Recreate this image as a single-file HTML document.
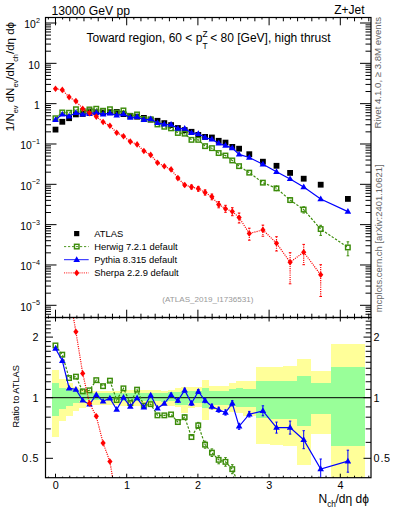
<!DOCTYPE html><html><head><meta charset="utf-8"><style>html,body{margin:0;padding:0;background:#fff;width:393px;height:512px;overflow:hidden}svg{display:block}text{font-family:"Liberation Sans", sans-serif}</style></head><body>
<svg width="393" height="512" viewBox="0 0 393 512">
<rect x="0" y="0" width="393" height="512" fill="#fff"/>
<defs><clipPath id="cu"><rect x="45.5" y="17.5" width="325.5" height="300"/></clipPath>
<clipPath id="cl"><rect x="45.5" y="317.5" width="325.5" height="160.2"/></clipPath></defs>
<g clip-path="url(#cl)" shape-rendering="crispEdges">
<rect x="52.1" y="370.2" width="6.8" height="66.7" fill="#ffff99"/>
<rect x="58.9" y="379.1" width="6.8" height="41.8" fill="#ffff99"/>
<rect x="65.7" y="383.1" width="6.8" height="32.4" fill="#ffff99"/>
<rect x="72.5" y="386.8" width="6.8" height="24.0" fill="#ffff99"/>
<rect x="79.3" y="389.5" width="6.8" height="18.0" fill="#ffff99"/>
<rect x="86.1" y="391.0" width="6.8" height="13.7" fill="#ffff99"/>
<rect x="92.9" y="391.0" width="6.8" height="13.7" fill="#ffff99"/>
<rect x="99.7" y="391.0" width="6.8" height="13.7" fill="#ffff99"/>
<rect x="106.5" y="391.0" width="6.8" height="13.7" fill="#ffff99"/>
<rect x="113.3" y="391.0" width="6.8" height="13.7" fill="#ffff99"/>
<rect x="120.1" y="390.2" width="6.8" height="15.3" fill="#ffff99"/>
<rect x="126.9" y="390.2" width="6.8" height="15.3" fill="#ffff99"/>
<rect x="133.7" y="390.2" width="6.8" height="15.3" fill="#ffff99"/>
<rect x="140.5" y="390.2" width="6.8" height="15.3" fill="#ffff99"/>
<rect x="147.3" y="390.2" width="6.8" height="15.3" fill="#ffff99"/>
<rect x="154.1" y="390.2" width="6.8" height="15.3" fill="#ffff99"/>
<rect x="160.9" y="391.0" width="6.8" height="14.5" fill="#ffff99"/>
<rect x="167.7" y="389.9" width="6.8" height="16.0" fill="#ffff99"/>
<rect x="174.5" y="387.9" width="6.8" height="19.1" fill="#ffff99"/>
<rect x="181.3" y="386.7" width="6.8" height="26.1" fill="#ffff99"/>
<rect x="188.1" y="387.3" width="6.8" height="20.5" fill="#ffff99"/>
<rect x="194.9" y="387.3" width="6.8" height="19.2" fill="#ffff99"/>
<rect x="201.7" y="380.1" width="6.8" height="39.5" fill="#ffff99"/>
<rect x="208.5" y="386.3" width="6.8" height="23.3" fill="#ffff99"/>
<rect x="215.3" y="386.3" width="6.8" height="23.3" fill="#ffff99"/>
<rect x="222.1" y="386.3" width="6.8" height="23.3" fill="#ffff99"/>
<rect x="228.9" y="383.2" width="6.8" height="28.6" fill="#ffff99"/>
<rect x="235.7" y="380.6" width="6.8" height="32.4" fill="#ffff99"/>
<rect x="242.5" y="380.5" width="13.6" height="35.5" fill="#ffff99"/>
<rect x="256.1" y="366.9" width="13.6" height="76.8" fill="#ffff99"/>
<rect x="269.7" y="366.5" width="13.6" height="78.0" fill="#ffff99"/>
<rect x="283.3" y="366.0" width="13.6" height="80.0" fill="#ffff99"/>
<rect x="296.9" y="359.4" width="13.6" height="105.9" fill="#ffff99"/>
<rect x="310.5" y="371.1" width="20.4" height="63.3" fill="#ffff99"/>
<rect x="330.9" y="344.0" width="34.0" height="134.0" fill="#ffff99"/>
<rect x="52.1" y="383.1" width="6.8" height="32.4" fill="#99ff99"/>
<rect x="58.9" y="387.8" width="6.8" height="21.4" fill="#99ff99"/>
<rect x="65.7" y="389.0" width="6.8" height="17.0" fill="#99ff99"/>
<rect x="72.5" y="390.0" width="6.8" height="12.8" fill="#99ff99"/>
<rect x="79.3" y="391.9" width="6.8" height="9.5" fill="#99ff99"/>
<rect x="86.1" y="393.0" width="6.8" height="7.0" fill="#99ff99"/>
<rect x="92.9" y="393.0" width="6.8" height="7.0" fill="#99ff99"/>
<rect x="99.7" y="393.0" width="6.8" height="7.0" fill="#99ff99"/>
<rect x="106.5" y="393.0" width="6.8" height="7.0" fill="#99ff99"/>
<rect x="113.3" y="393.0" width="6.8" height="7.0" fill="#99ff99"/>
<rect x="120.1" y="393.3" width="6.8" height="7.5" fill="#99ff99"/>
<rect x="126.9" y="393.3" width="6.8" height="7.5" fill="#99ff99"/>
<rect x="133.7" y="393.3" width="6.8" height="7.5" fill="#99ff99"/>
<rect x="140.5" y="393.3" width="6.8" height="7.5" fill="#99ff99"/>
<rect x="147.3" y="393.3" width="6.8" height="7.5" fill="#99ff99"/>
<rect x="154.1" y="393.3" width="6.8" height="7.5" fill="#99ff99"/>
<rect x="160.9" y="393.4" width="6.8" height="8.6" fill="#99ff99"/>
<rect x="167.7" y="392.4" width="6.8" height="8.9" fill="#99ff99"/>
<rect x="174.5" y="392.0" width="6.8" height="12.7" fill="#99ff99"/>
<rect x="181.3" y="391.3" width="6.8" height="13.4" fill="#99ff99"/>
<rect x="188.1" y="391.3" width="6.8" height="11.7" fill="#99ff99"/>
<rect x="194.9" y="391.3" width="6.8" height="11.7" fill="#99ff99"/>
<rect x="201.7" y="388.3" width="6.8" height="19.3" fill="#99ff99"/>
<rect x="208.5" y="391.0" width="6.8" height="14.3" fill="#99ff99"/>
<rect x="215.3" y="391.0" width="6.8" height="14.3" fill="#99ff99"/>
<rect x="222.1" y="391.0" width="6.8" height="14.3" fill="#99ff99"/>
<rect x="228.9" y="388.7" width="6.8" height="17.7" fill="#99ff99"/>
<rect x="235.7" y="387.9" width="6.8" height="19.1" fill="#99ff99"/>
<rect x="242.5" y="388.5" width="13.6" height="18.9" fill="#99ff99"/>
<rect x="256.1" y="381.0" width="13.6" height="37.0" fill="#99ff99"/>
<rect x="269.7" y="380.8" width="13.6" height="37.7" fill="#99ff99"/>
<rect x="283.3" y="380.5" width="13.6" height="38.5" fill="#99ff99"/>
<rect x="296.9" y="376.2" width="13.6" height="49.3" fill="#99ff99"/>
<rect x="310.5" y="382.8" width="20.4" height="31.6" fill="#99ff99"/>
<rect x="330.9" y="366.5" width="34.0" height="79.2" fill="#99ff99"/>
</g>
<line x1="45.5" y1="397.7" x2="371" y2="397.7" stroke="#000" stroke-width="1"/>
<g clip-path="url(#cl)">
<polyline points="55.5,345.5 62.3,354.6 69.1,378.0 75.9,376.6 82.7,391.3 89.5,390.3 96.3,380.1 103.1,386.2 109.9,380.7 116.7,400.0 123.5,388.4 130.3,403.0 137.1,389.7 143.9,405.6 150.7,404.2 157.5,415.4 164.3,415.4 171.1,414.5 177.9,422.0 184.7,417.2 191.5,437.0 198.3,425.4 205.1,444.7 211.9,452.7 218.7,459.8 225.5,461.9 232.3,469.2 239.1,485.2 249.3,490.1 262.9,502.7 276.5,510.0 290.1,532.9 303.7,552.0 320.7,619.3 347.9,640.4" fill="none" stroke="#3c8c0a" stroke-width="1.2" stroke-dasharray="2.4 1.6"/>
<rect x="53.2" y="343.2" width="4.5" height="4.5" fill="none" stroke="#3c8c0a" stroke-width="1.45"/>
<rect x="60.0" y="352.4" width="4.5" height="4.5" fill="none" stroke="#3c8c0a" stroke-width="1.45"/>
<rect x="66.8" y="375.8" width="4.5" height="4.5" fill="none" stroke="#3c8c0a" stroke-width="1.45"/>
<rect x="73.7" y="374.4" width="4.5" height="4.5" fill="none" stroke="#3c8c0a" stroke-width="1.45"/>
<rect x="80.5" y="389.1" width="4.5" height="4.5" fill="none" stroke="#3c8c0a" stroke-width="1.45"/>
<rect x="87.2" y="388.1" width="4.5" height="4.5" fill="none" stroke="#3c8c0a" stroke-width="1.45"/>
<rect x="94.0" y="377.9" width="4.5" height="4.5" fill="none" stroke="#3c8c0a" stroke-width="1.45"/>
<rect x="100.8" y="383.9" width="4.5" height="4.5" fill="none" stroke="#3c8c0a" stroke-width="1.45"/>
<rect x="107.7" y="378.4" width="4.5" height="4.5" fill="none" stroke="#3c8c0a" stroke-width="1.45"/>
<rect x="114.4" y="397.8" width="4.5" height="4.5" fill="none" stroke="#3c8c0a" stroke-width="1.45"/>
<rect x="121.2" y="386.1" width="4.5" height="4.5" fill="none" stroke="#3c8c0a" stroke-width="1.45"/>
<rect x="128.1" y="400.8" width="4.5" height="4.5" fill="none" stroke="#3c8c0a" stroke-width="1.45"/>
<rect x="134.8" y="387.4" width="4.5" height="4.5" fill="none" stroke="#3c8c0a" stroke-width="1.45"/>
<rect x="141.6" y="403.4" width="4.5" height="4.5" fill="none" stroke="#3c8c0a" stroke-width="1.45"/>
<rect x="148.4" y="401.9" width="4.5" height="4.5" fill="none" stroke="#3c8c0a" stroke-width="1.45"/>
<rect x="155.2" y="413.1" width="4.5" height="4.5" fill="none" stroke="#3c8c0a" stroke-width="1.45"/>
<rect x="162.1" y="413.1" width="4.5" height="4.5" fill="none" stroke="#3c8c0a" stroke-width="1.45"/>
<rect x="168.8" y="412.2" width="4.5" height="4.5" fill="none" stroke="#3c8c0a" stroke-width="1.45"/>
<rect x="175.6" y="419.8" width="4.5" height="4.5" fill="none" stroke="#3c8c0a" stroke-width="1.45"/>
<path d="M184.7 415.2V414.3M184.7 420.1V419.2M183.4 415.2H186.0M183.4 419.2H186.0" stroke="#3c8c0a" stroke-width="1" fill="none"/>
<rect x="182.4" y="414.9" width="4.5" height="4.5" fill="none" stroke="#3c8c0a" stroke-width="1.45"/>
<path d="M191.5 434.5V434.1M191.5 439.9V439.5M190.2 434.5H192.8M190.2 439.5H192.8" stroke="#3c8c0a" stroke-width="1" fill="none"/>
<rect x="189.2" y="434.8" width="4.5" height="4.5" fill="none" stroke="#3c8c0a" stroke-width="1.45"/>
<path d="M198.3 422.4V422.5M198.3 428.3V428.4M197.0 422.4H199.6M197.0 428.4H199.6" stroke="#3c8c0a" stroke-width="1" fill="none"/>
<rect x="196.0" y="423.1" width="4.5" height="4.5" fill="none" stroke="#3c8c0a" stroke-width="1.45"/>
<path d="M205.1 441.2V441.8M205.1 447.6V448.2M203.8 441.2H206.4M203.8 448.2H206.4" stroke="#3c8c0a" stroke-width="1" fill="none"/>
<rect x="202.8" y="442.4" width="4.5" height="4.5" fill="none" stroke="#3c8c0a" stroke-width="1.45"/>
<path d="M211.9 448.9V449.8M211.9 455.6V456.5M210.6 448.9H213.2M210.6 456.5H213.2" stroke="#3c8c0a" stroke-width="1" fill="none"/>
<rect x="209.7" y="450.4" width="4.5" height="4.5" fill="none" stroke="#3c8c0a" stroke-width="1.45"/>
<path d="M218.7 455.8V456.9M218.7 462.7V463.8M217.4 455.8H220.0M217.4 463.8H220.0" stroke="#3c8c0a" stroke-width="1" fill="none"/>
<rect x="216.4" y="457.6" width="4.5" height="4.5" fill="none" stroke="#3c8c0a" stroke-width="1.45"/>
<path d="M225.5 457.6V459.0M225.5 464.8V466.2M224.2 457.6H226.8M224.2 466.2H226.8" stroke="#3c8c0a" stroke-width="1" fill="none"/>
<rect x="223.2" y="459.6" width="4.5" height="4.5" fill="none" stroke="#3c8c0a" stroke-width="1.45"/>
<path d="M232.3 464.7V466.3M232.3 472.1V473.7M231.0 464.7H233.6M231.0 473.7H233.6" stroke="#3c8c0a" stroke-width="1" fill="none"/>
<rect x="230.0" y="466.9" width="4.5" height="4.5" fill="none" stroke="#3c8c0a" stroke-width="1.45"/>
<polyline points="55.5,348.5 62.3,360.7 69.1,388.2 75.9,389.5 82.7,400.4 89.5,404.4 96.3,394.7 103.1,401.4 109.9,398.3 116.7,409.5 123.5,397.6 130.3,406.5 137.1,398.1 143.9,407.4 150.7,395.3 157.5,408.3 164.3,403.5 171.1,394.9 177.9,400.6 184.7,390.2 191.5,403.3 198.3,391.5 205.1,400.5 211.9,406.5 218.7,409.7 225.5,412.5 232.3,403.3 239.1,426.3 249.3,414.2 262.9,410.8 276.5,427.6 290.1,427.6 303.7,439.7 320.7,469.0 347.9,461.2" fill="none" stroke="#0000ff" stroke-width="1.2"/>
<polygon points="55.5,345.0 52.2,350.7 58.8,350.7" fill="#0000ff"/>
<polygon points="62.3,357.2 59.0,362.9 65.6,362.9" fill="#0000ff"/>
<polygon points="69.1,384.7 65.8,390.4 72.4,390.4" fill="#0000ff"/>
<polygon points="75.9,386.0 72.6,391.7 79.2,391.7" fill="#0000ff"/>
<polygon points="82.7,396.9 79.4,402.6 86.0,402.6" fill="#0000ff"/>
<polygon points="89.5,400.9 86.2,406.6 92.8,406.6" fill="#0000ff"/>
<polygon points="96.3,391.2 93.0,396.9 99.6,396.9" fill="#0000ff"/>
<polygon points="103.1,397.9 99.8,403.6 106.4,403.6" fill="#0000ff"/>
<polygon points="109.9,394.8 106.6,400.5 113.2,400.5" fill="#0000ff"/>
<polygon points="116.7,406.0 113.4,411.7 120.0,411.7" fill="#0000ff"/>
<polygon points="123.5,394.1 120.2,399.8 126.8,399.8" fill="#0000ff"/>
<polygon points="130.3,403.0 127.0,408.7 133.6,408.7" fill="#0000ff"/>
<polygon points="137.1,394.6 133.8,400.3 140.4,400.3" fill="#0000ff"/>
<polygon points="143.9,403.9 140.6,409.6 147.2,409.6" fill="#0000ff"/>
<polygon points="150.7,391.8 147.4,397.5 154.0,397.5" fill="#0000ff"/>
<polygon points="157.5,404.8 154.2,410.5 160.8,410.5" fill="#0000ff"/>
<polygon points="164.3,400.0 161.0,405.7 167.6,405.7" fill="#0000ff"/>
<path d="M171.1 393.1V396.7M169.9 393.1H172.3M169.9 396.7H172.3" stroke="#0000ff" stroke-width="1" fill="none"/>
<polygon points="171.1,391.4 167.8,397.1 174.4,397.1" fill="#0000ff"/>
<path d="M177.9 398.8V402.4M176.7 398.8H179.1M176.7 402.4H179.1" stroke="#0000ff" stroke-width="1" fill="none"/>
<polygon points="177.9,397.1 174.6,402.8 181.2,402.8" fill="#0000ff"/>
<path d="M184.7 388.2V392.2M183.5 388.2H185.9M183.5 392.2H185.9" stroke="#0000ff" stroke-width="1" fill="none"/>
<polygon points="184.7,386.7 181.4,392.4 188.0,392.4" fill="#0000ff"/>
<path d="M191.5 401.3V405.3M190.3 401.3H192.7M190.3 405.3H192.7" stroke="#0000ff" stroke-width="1" fill="none"/>
<polygon points="191.5,399.8 188.2,405.5 194.8,405.5" fill="#0000ff"/>
<path d="M198.3 389.5V393.5M197.1 389.5H199.5M197.1 393.5H199.5" stroke="#0000ff" stroke-width="1" fill="none"/>
<polygon points="198.3,388.0 195.0,393.7 201.6,393.7" fill="#0000ff"/>
<path d="M205.1 398.3V402.7M203.9 398.3H206.3M203.9 402.7H206.3" stroke="#0000ff" stroke-width="1" fill="none"/>
<polygon points="205.1,397.0 201.8,402.7 208.4,402.7" fill="#0000ff"/>
<path d="M211.9 404.1V408.9M210.7 404.1H213.1M210.7 408.9H213.1" stroke="#0000ff" stroke-width="1" fill="none"/>
<polygon points="211.9,403.0 208.6,408.7 215.2,408.7" fill="#0000ff"/>
<path d="M218.7 407.2V412.2M217.5 407.2H219.9M217.5 412.2H219.9" stroke="#0000ff" stroke-width="1" fill="none"/>
<polygon points="218.7,406.2 215.4,411.9 222.0,411.9" fill="#0000ff"/>
<path d="M225.5 409.9V415.1M224.3 409.9H226.7M224.3 415.1H226.7" stroke="#0000ff" stroke-width="1" fill="none"/>
<polygon points="225.5,409.0 222.2,414.7 228.8,414.7" fill="#0000ff"/>
<path d="M232.3 400.7V405.9M231.1 400.7H233.5M231.1 405.9H233.5" stroke="#0000ff" stroke-width="1" fill="none"/>
<polygon points="232.3,399.8 229.0,405.5 235.6,405.5" fill="#0000ff"/>
<path d="M239.1 423.3V429.3M237.9 423.3H240.3M237.9 429.3H240.3" stroke="#0000ff" stroke-width="1" fill="none"/>
<polygon points="239.1,422.8 235.8,428.5 242.4,428.5" fill="#0000ff"/>
<path d="M249.3 411.4V417.0M248.1 411.4H250.5M248.1 417.0H250.5" stroke="#0000ff" stroke-width="1" fill="none"/>
<polygon points="249.3,410.7 246.0,416.4 252.6,416.4" fill="#0000ff"/>
<path d="M262.9 405.8V415.8M261.7 405.8H264.1M261.7 415.8H264.1" stroke="#0000ff" stroke-width="1" fill="none"/>
<polygon points="262.9,407.3 259.6,413.0 266.2,413.0" fill="#0000ff"/>
<path d="M276.5 422.1V433.1M275.3 422.1H277.7M275.3 433.1H277.7" stroke="#0000ff" stroke-width="1" fill="none"/>
<polygon points="276.5,424.1 273.2,429.8 279.8,429.8" fill="#0000ff"/>
<path d="M290.1 421.1V434.1M288.9 421.1H291.3M288.9 434.1H291.3" stroke="#0000ff" stroke-width="1" fill="none"/>
<polygon points="290.1,424.1 286.8,429.8 293.4,429.8" fill="#0000ff"/>
<path d="M303.7 430.7V448.7M302.5 430.7H304.9M302.5 448.7H304.9" stroke="#0000ff" stroke-width="1" fill="none"/>
<polygon points="303.7,436.2 300.4,441.9 307.0,441.9" fill="#0000ff"/>
<path d="M320.7 459.0V479.0M319.5 459.0H321.9M319.5 479.0H321.9" stroke="#0000ff" stroke-width="1" fill="none"/>
<polygon points="320.7,465.5 317.4,471.2 324.0,471.2" fill="#0000ff"/>
<path d="M347.9 450.2V472.2M346.7 450.2H349.1M346.7 472.2H349.1" stroke="#0000ff" stroke-width="1" fill="none"/>
<polygon points="347.9,457.7 344.6,463.4 351.2,463.4" fill="#0000ff"/>
<polyline points="55.5,193.7 62.3,238.4 69.1,292.3 75.9,331.8 82.7,373.4 89.5,403.4 96.3,416.3 103.1,443.1 109.9,461.5 116.7,501.9 123.5,508.4 130.3,526.3 137.1,535.9 143.9,563.2 150.7,574.0 157.5,607.5 164.3,613.2 171.1,619.1 177.9,647.7 184.7,671.8 191.5,673.4 198.3,666.1 205.1,674.6 211.9,693.6 218.7,716.2 225.5,727.5 232.3,720.3 239.1,741.3 249.3,793.6 262.9,738.3 276.5,784.1 290.1,843.5 303.7,764.7 320.7,847.4" fill="none" stroke="#ff0000" stroke-width="1.2" stroke-dasharray="1.1 1.1"/>
<polygon points="55.5,190.4 58.1,193.7 55.5,197.0 52.9,193.7" fill="#ff0000"/>
<polygon points="62.3,235.1 64.9,238.4 62.3,241.7 59.7,238.4" fill="#ff0000"/>
<polygon points="69.1,289.0 71.7,292.3 69.1,295.6 66.5,292.3" fill="#ff0000"/>
<polygon points="75.9,328.5 78.5,331.8 75.9,335.1 73.3,331.8" fill="#ff0000"/>
<polygon points="82.7,370.1 85.3,373.4 82.7,376.7 80.1,373.4" fill="#ff0000"/>
<polygon points="89.5,400.1 92.1,403.4 89.5,406.7 86.9,403.4" fill="#ff0000"/>
<polygon points="96.3,413.0 98.9,416.3 96.3,419.6 93.7,416.3" fill="#ff0000"/>
<polygon points="103.1,439.8 105.7,443.1 103.1,446.4 100.5,443.1" fill="#ff0000"/>
<polygon points="109.9,458.2 112.5,461.5 109.9,464.8 107.3,461.5" fill="#ff0000"/>
<polygon points="116.7,498.6 119.3,501.9 116.7,505.2 114.1,501.9" fill="#ff0000"/>
<polygon points="123.5,505.1 126.1,508.4 123.5,511.7 120.9,508.4" fill="#ff0000"/>
<polygon points="130.3,523.0 132.9,526.3 130.3,529.6 127.7,526.3" fill="#ff0000"/>
<polygon points="137.1,532.6 139.7,535.9 137.1,539.2 134.5,535.9" fill="#ff0000"/>
<polygon points="143.9,559.9 146.5,563.2 143.9,566.5 141.3,563.2" fill="#ff0000"/>
<polygon points="150.7,570.7 153.3,574.0 150.7,577.3 148.1,574.0" fill="#ff0000"/>
<polygon points="157.5,604.2 160.1,607.5 157.5,610.8 154.9,607.5" fill="#ff0000"/>
<polygon points="164.3,609.9 166.9,613.2 164.3,616.5 161.7,613.2" fill="#ff0000"/>
<polygon points="171.1,615.8 173.7,619.1 171.1,622.4 168.5,619.1" fill="#ff0000"/>
<polygon points="177.9,644.4 180.5,647.7 177.9,651.0 175.3,647.7" fill="#ff0000"/>
<polygon points="184.7,668.5 187.3,671.8 184.7,675.1 182.1,671.8" fill="#ff0000"/>
<polygon points="191.5,670.1 194.1,673.4 191.5,676.7 188.9,673.4" fill="#ff0000"/>
<polygon points="198.3,662.8 200.9,666.1 198.3,669.4 195.7,666.1" fill="#ff0000"/>
<polygon points="205.1,671.3 207.7,674.6 205.1,677.9 202.5,674.6" fill="#ff0000"/>
<polygon points="211.9,690.3 214.5,693.6 211.9,696.9 209.3,693.6" fill="#ff0000"/>
<polygon points="218.7,712.9 221.3,716.2 218.7,719.5 216.1,716.2" fill="#ff0000"/>
<polygon points="225.5,724.2 228.1,727.5 225.5,730.8 222.9,727.5" fill="#ff0000"/>
<polygon points="232.3,717.0 234.9,720.3 232.3,723.6 229.7,720.3" fill="#ff0000"/>
<polygon points="239.1,738.0 241.7,741.3 239.1,744.6 236.5,741.3" fill="#ff0000"/>
<polygon points="249.3,790.3 251.9,793.6 249.3,796.9 246.7,793.6" fill="#ff0000"/>
<polygon points="262.9,735.0 265.5,738.3 262.9,741.6 260.3,738.3" fill="#ff0000"/>
<polygon points="276.5,780.8 279.1,784.1 276.5,787.4 273.9,784.1" fill="#ff0000"/>
<polygon points="290.1,840.2 292.7,843.5 290.1,846.8 287.5,843.5" fill="#ff0000"/>
<polygon points="303.7,761.4 306.3,764.7 303.7,768.0 301.1,764.7" fill="#ff0000"/>
<polygon points="320.7,844.1 323.3,847.4 320.7,850.7 318.1,847.4" fill="#ff0000"/>
</g>
<g clip-path="url(#cu)">
<rect x="52.6" y="126.7" width="5.8" height="5.8" fill="#000"/>
<rect x="59.4" y="118.9" width="5.8" height="5.8" fill="#000"/>
<rect x="66.2" y="115.3" width="5.8" height="5.8" fill="#000"/>
<rect x="73.0" y="111.5" width="5.8" height="5.8" fill="#000"/>
<rect x="79.8" y="111.0" width="5.8" height="5.8" fill="#000"/>
<rect x="86.6" y="108.5" width="5.8" height="5.8" fill="#000"/>
<rect x="93.4" y="109.4" width="5.8" height="5.8" fill="#000"/>
<rect x="100.2" y="109.6" width="5.8" height="5.8" fill="#000"/>
<rect x="107.0" y="109.3" width="5.8" height="5.8" fill="#000"/>
<rect x="113.8" y="109.0" width="5.8" height="5.8" fill="#000"/>
<rect x="120.6" y="111.2" width="5.8" height="5.8" fill="#000"/>
<rect x="127.4" y="112.9" width="5.8" height="5.8" fill="#000"/>
<rect x="134.2" y="113.8" width="5.8" height="5.8" fill="#000"/>
<rect x="141.0" y="115.0" width="5.8" height="5.8" fill="#000"/>
<rect x="147.8" y="116.7" width="5.8" height="5.8" fill="#000"/>
<rect x="154.6" y="117.9" width="5.8" height="5.8" fill="#000"/>
<rect x="161.4" y="120.2" width="5.8" height="5.8" fill="#000"/>
<rect x="168.2" y="122.2" width="5.8" height="5.8" fill="#000"/>
<rect x="175.0" y="125.1" width="5.8" height="5.8" fill="#000"/>
<rect x="181.8" y="127.2" width="5.8" height="5.8" fill="#000"/>
<rect x="188.6" y="128.9" width="5.8" height="5.8" fill="#000"/>
<rect x="195.4" y="132.0" width="5.8" height="5.8" fill="#000"/>
<rect x="202.2" y="134.0" width="5.8" height="5.8" fill="#000"/>
<rect x="209.0" y="134.6" width="5.8" height="5.8" fill="#000"/>
<rect x="215.8" y="137.9" width="5.8" height="5.8" fill="#000"/>
<rect x="222.6" y="139.7" width="5.8" height="5.8" fill="#000"/>
<rect x="229.4" y="144.0" width="5.8" height="5.8" fill="#000"/>
<rect x="236.2" y="145.8" width="5.8" height="5.8" fill="#000"/>
<rect x="246.4" y="151.3" width="5.8" height="5.8" fill="#000"/>
<rect x="260.0" y="158.8" width="5.8" height="5.8" fill="#000"/>
<rect x="273.6" y="162.9" width="5.8" height="5.8" fill="#000"/>
<rect x="287.2" y="170.0" width="5.8" height="5.8" fill="#000"/>
<rect x="300.8" y="175.8" width="5.8" height="5.8" fill="#000"/>
<rect x="317.8" y="181.8" width="5.8" height="5.8" fill="#000"/>
<rect x="345.0" y="196.0" width="5.8" height="5.8" fill="#000"/>
<polyline points="55.5,118.2 62.3,112.4 69.1,112.8 75.9,109.3 82.7,111.3 89.5,109.5 96.3,108.8 103.1,110.8 109.9,109.3 116.7,112.6 123.5,110.5 130.3,116.0 137.1,114.5 143.9,119.0 150.7,119.5 157.5,124.4 164.3,126.8 171.1,128.3 177.9,132.9 184.7,133.7 191.5,139.8 198.3,139.8 205.1,146.2 211.9,148.2 218.7,153.0 225.5,155.6 232.3,160.5 239.1,166.2 249.3,172.7 262.9,182.7 276.5,188.3 290.1,200.0 303.7,209.6 320.7,229.1 347.9,247.5" fill="none" stroke="#3c8c0a" stroke-width="1.2" stroke-dasharray="2.4 1.6"/>
<rect x="53.2" y="116.0" width="4.5" height="4.5" fill="none" stroke="#3c8c0a" stroke-width="1.45"/>
<rect x="60.0" y="110.2" width="4.5" height="4.5" fill="none" stroke="#3c8c0a" stroke-width="1.45"/>
<rect x="66.8" y="110.5" width="4.5" height="4.5" fill="none" stroke="#3c8c0a" stroke-width="1.45"/>
<rect x="73.7" y="107.0" width="4.5" height="4.5" fill="none" stroke="#3c8c0a" stroke-width="1.45"/>
<rect x="80.5" y="109.0" width="4.5" height="4.5" fill="none" stroke="#3c8c0a" stroke-width="1.45"/>
<rect x="87.2" y="107.2" width="4.5" height="4.5" fill="none" stroke="#3c8c0a" stroke-width="1.45"/>
<rect x="94.0" y="106.5" width="4.5" height="4.5" fill="none" stroke="#3c8c0a" stroke-width="1.45"/>
<rect x="100.8" y="108.5" width="4.5" height="4.5" fill="none" stroke="#3c8c0a" stroke-width="1.45"/>
<rect x="107.7" y="107.0" width="4.5" height="4.5" fill="none" stroke="#3c8c0a" stroke-width="1.45"/>
<rect x="114.4" y="110.3" width="4.5" height="4.5" fill="none" stroke="#3c8c0a" stroke-width="1.45"/>
<rect x="121.2" y="108.2" width="4.5" height="4.5" fill="none" stroke="#3c8c0a" stroke-width="1.45"/>
<rect x="128.1" y="113.8" width="4.5" height="4.5" fill="none" stroke="#3c8c0a" stroke-width="1.45"/>
<rect x="134.8" y="112.2" width="4.5" height="4.5" fill="none" stroke="#3c8c0a" stroke-width="1.45"/>
<rect x="141.6" y="116.8" width="4.5" height="4.5" fill="none" stroke="#3c8c0a" stroke-width="1.45"/>
<rect x="148.4" y="117.2" width="4.5" height="4.5" fill="none" stroke="#3c8c0a" stroke-width="1.45"/>
<rect x="155.2" y="122.2" width="4.5" height="4.5" fill="none" stroke="#3c8c0a" stroke-width="1.45"/>
<rect x="162.1" y="124.5" width="4.5" height="4.5" fill="none" stroke="#3c8c0a" stroke-width="1.45"/>
<rect x="168.8" y="126.1" width="4.5" height="4.5" fill="none" stroke="#3c8c0a" stroke-width="1.45"/>
<rect x="175.6" y="130.7" width="4.5" height="4.5" fill="none" stroke="#3c8c0a" stroke-width="1.45"/>
<rect x="182.4" y="131.4" width="4.5" height="4.5" fill="none" stroke="#3c8c0a" stroke-width="1.45"/>
<rect x="189.2" y="137.6" width="4.5" height="4.5" fill="none" stroke="#3c8c0a" stroke-width="1.45"/>
<rect x="196.0" y="137.6" width="4.5" height="4.5" fill="none" stroke="#3c8c0a" stroke-width="1.45"/>
<rect x="202.8" y="143.9" width="4.5" height="4.5" fill="none" stroke="#3c8c0a" stroke-width="1.45"/>
<rect x="209.7" y="145.9" width="4.5" height="4.5" fill="none" stroke="#3c8c0a" stroke-width="1.45"/>
<rect x="216.4" y="150.8" width="4.5" height="4.5" fill="none" stroke="#3c8c0a" stroke-width="1.45"/>
<rect x="223.2" y="153.3" width="4.5" height="4.5" fill="none" stroke="#3c8c0a" stroke-width="1.45"/>
<rect x="230.0" y="158.2" width="4.5" height="4.5" fill="none" stroke="#3c8c0a" stroke-width="1.45"/>
<rect x="236.8" y="163.9" width="4.5" height="4.5" fill="none" stroke="#3c8c0a" stroke-width="1.45"/>
<rect x="247.0" y="170.4" width="4.5" height="4.5" fill="none" stroke="#3c8c0a" stroke-width="1.45"/>
<rect x="260.6" y="180.4" width="4.5" height="4.5" fill="none" stroke="#3c8c0a" stroke-width="1.45"/>
<path d="M276.5 186.5V185.4M276.5 191.2V190.3M275.2 186.5H277.8M275.2 190.3H277.8" stroke="#3c8c0a" stroke-width="1" fill="none"/>
<rect x="274.2" y="186.1" width="4.5" height="4.5" fill="none" stroke="#3c8c0a" stroke-width="1.45"/>
<path d="M290.1 197.8V197.1M290.1 202.9V202.6M288.8 197.8H291.4M288.8 202.6H291.4" stroke="#3c8c0a" stroke-width="1" fill="none"/>
<rect x="287.9" y="197.8" width="4.5" height="4.5" fill="none" stroke="#3c8c0a" stroke-width="1.45"/>
<path d="M303.7 206.8V206.7M303.7 212.5V213.0M302.4 206.8H305.0M302.4 213.0H305.0" stroke="#3c8c0a" stroke-width="1" fill="none"/>
<rect x="301.4" y="207.3" width="4.5" height="4.5" fill="none" stroke="#3c8c0a" stroke-width="1.45"/>
<path d="M320.7 225.3V226.2M320.7 232.0V235.4M319.4 225.3H322.0M319.4 235.4H322.0" stroke="#3c8c0a" stroke-width="1" fill="none"/>
<rect x="318.4" y="226.8" width="4.5" height="4.5" fill="none" stroke="#3c8c0a" stroke-width="1.45"/>
<path d="M347.9 241.8V244.6M347.9 250.4V255.8M346.6 241.8H349.2M346.6 255.8H349.2" stroke="#3c8c0a" stroke-width="1" fill="none"/>
<rect x="345.6" y="245.2" width="4.5" height="4.5" fill="none" stroke="#3c8c0a" stroke-width="1.45"/>
<polyline points="55.5,119.7 62.3,114.4 69.1,116.3 75.9,112.8 82.7,114.4 89.5,113.7 96.3,112.7 103.1,114.2 109.9,113.3 116.7,115.3 123.5,114.1 130.3,117.6 137.1,116.8 143.9,119.8 150.7,119.1 157.5,122.9 164.3,124.3 171.1,124.5 177.9,128.6 184.7,128.6 191.5,132.9 198.3,133.7 205.1,137.5 211.9,139.3 218.7,143.2 225.5,145.6 232.3,148.0 239.1,154.4 249.3,157.5 262.9,164.3 276.5,171.8 290.1,178.9 303.7,187.1 320.7,199.0 347.9,211.6" fill="none" stroke="#0000ff" stroke-width="1.2"/>
<polygon points="55.5,116.2 52.2,121.9 58.8,121.9" fill="#0000ff"/>
<polygon points="62.3,110.9 59.0,116.6 65.6,116.6" fill="#0000ff"/>
<polygon points="69.1,112.8 65.8,118.5 72.4,118.5" fill="#0000ff"/>
<polygon points="75.9,109.3 72.6,115.0 79.2,115.0" fill="#0000ff"/>
<polygon points="82.7,110.9 79.4,116.6 86.0,116.6" fill="#0000ff"/>
<polygon points="89.5,110.2 86.2,115.9 92.8,115.9" fill="#0000ff"/>
<polygon points="96.3,109.2 93.0,114.9 99.6,114.9" fill="#0000ff"/>
<polygon points="103.1,110.7 99.8,116.4 106.4,116.4" fill="#0000ff"/>
<polygon points="109.9,109.8 106.6,115.5 113.2,115.5" fill="#0000ff"/>
<polygon points="116.7,111.8 113.4,117.5 120.0,117.5" fill="#0000ff"/>
<polygon points="123.5,110.6 120.2,116.3 126.8,116.3" fill="#0000ff"/>
<polygon points="130.3,114.1 127.0,119.8 133.6,119.8" fill="#0000ff"/>
<polygon points="137.1,113.3 133.8,119.0 140.4,119.0" fill="#0000ff"/>
<polygon points="143.9,116.3 140.6,122.0 147.2,122.0" fill="#0000ff"/>
<polygon points="150.7,115.6 147.4,121.3 154.0,121.3" fill="#0000ff"/>
<polygon points="157.5,119.4 154.2,125.1 160.8,125.1" fill="#0000ff"/>
<polygon points="164.3,120.8 161.0,126.5 167.6,126.5" fill="#0000ff"/>
<polygon points="171.1,121.0 167.8,126.7 174.4,126.7" fill="#0000ff"/>
<polygon points="177.9,125.1 174.6,130.8 181.2,130.8" fill="#0000ff"/>
<polygon points="184.7,125.1 181.4,130.8 188.0,130.8" fill="#0000ff"/>
<polygon points="191.5,129.4 188.2,135.1 194.8,135.1" fill="#0000ff"/>
<polygon points="198.3,130.2 195.0,135.9 201.6,135.9" fill="#0000ff"/>
<polygon points="205.1,134.0 201.8,139.7 208.4,139.7" fill="#0000ff"/>
<polygon points="211.9,135.8 208.6,141.5 215.2,141.5" fill="#0000ff"/>
<polygon points="218.7,139.7 215.4,145.4 222.0,145.4" fill="#0000ff"/>
<polygon points="225.5,142.1 222.2,147.8 228.8,147.8" fill="#0000ff"/>
<polygon points="232.3,144.5 229.0,150.2 235.6,150.2" fill="#0000ff"/>
<polygon points="239.1,150.9 235.8,156.6 242.4,156.6" fill="#0000ff"/>
<polygon points="249.3,154.0 246.0,159.7 252.6,159.7" fill="#0000ff"/>
<polygon points="262.9,160.8 259.6,166.5 266.2,166.5" fill="#0000ff"/>
<polygon points="276.5,168.3 273.2,174.0 279.8,174.0" fill="#0000ff"/>
<polygon points="290.1,175.4 286.8,181.1 293.4,181.1" fill="#0000ff"/>
<polygon points="303.7,183.6 300.4,189.3 307.0,189.3" fill="#0000ff"/>
<polygon points="320.7,195.5 317.4,201.2 324.0,201.2" fill="#0000ff"/>
<polygon points="347.9,208.1 344.6,213.8 351.2,213.8" fill="#0000ff"/>
<polyline points="55.5,88.7 62.3,89.9 69.1,97.1 75.9,101.1 82.7,108.7 89.5,113.1 96.3,116.6 103.1,122.0 109.9,125.8 116.7,132.8 123.5,136.3 130.3,141.6 137.1,144.4 143.9,151.0 150.7,154.9 157.5,162.8 164.3,166.3 171.1,169.4 177.9,178.1 184.7,185.0 191.5,187.0 198.3,188.7 205.1,192.4 211.9,196.8 218.7,204.6 225.5,208.7 232.3,211.5 239.1,217.5 249.3,233.5 262.9,229.9 276.5,243.2 290.1,262.2 303.7,252.2 320.7,274.8" fill="none" stroke="#ff0000" stroke-width="1.2" stroke-dasharray="1.1 1.1"/>
<polygon points="55.5,85.4 58.1,88.7 55.5,92.0 52.9,88.7" fill="#ff0000"/>
<polygon points="62.3,86.6 64.9,89.9 62.3,93.2 59.7,89.9" fill="#ff0000"/>
<polygon points="69.1,93.8 71.7,97.1 69.1,100.4 66.5,97.1" fill="#ff0000"/>
<polygon points="75.9,97.8 78.5,101.1 75.9,104.4 73.3,101.1" fill="#ff0000"/>
<polygon points="82.7,105.4 85.3,108.7 82.7,112.0 80.1,108.7" fill="#ff0000"/>
<polygon points="89.5,109.8 92.1,113.1 89.5,116.4 86.9,113.1" fill="#ff0000"/>
<polygon points="96.3,113.3 98.9,116.6 96.3,119.9 93.7,116.6" fill="#ff0000"/>
<polygon points="103.1,118.7 105.7,122.0 103.1,125.3 100.5,122.0" fill="#ff0000"/>
<polygon points="109.9,122.5 112.5,125.8 109.9,129.1 107.3,125.8" fill="#ff0000"/>
<polygon points="116.7,129.5 119.3,132.8 116.7,136.1 114.1,132.8" fill="#ff0000"/>
<polygon points="123.5,133.0 126.1,136.3 123.5,139.6 120.9,136.3" fill="#ff0000"/>
<polygon points="130.3,138.3 132.9,141.6 130.3,144.9 127.7,141.6" fill="#ff0000"/>
<polygon points="137.1,141.1 139.7,144.4 137.1,147.7 134.5,144.4" fill="#ff0000"/>
<polygon points="143.9,147.7 146.5,151.0 143.9,154.3 141.3,151.0" fill="#ff0000"/>
<polygon points="150.7,151.6 153.3,154.9 150.7,158.2 148.1,154.9" fill="#ff0000"/>
<polygon points="157.5,159.5 160.1,162.8 157.5,166.1 154.9,162.8" fill="#ff0000"/>
<polygon points="164.3,163.0 166.9,166.3 164.3,169.6 161.7,166.3" fill="#ff0000"/>
<polygon points="171.1,166.1 173.7,169.4 171.1,172.7 168.5,169.4" fill="#ff0000"/>
<path d="M177.9 176.6V179.6" stroke="#ff0000" stroke-width="1.2" fill="none" stroke-dasharray="1.1 1.1"/>
<path d="M176.6 176.6H179.2M176.6 179.6H179.2" stroke="#ff0000" stroke-width="1" fill="none"/>
<polygon points="177.9,174.8 180.5,178.1 177.9,181.4 175.3,178.1" fill="#ff0000"/>
<path d="M184.7 183.4V186.6" stroke="#ff0000" stroke-width="1.2" fill="none" stroke-dasharray="1.1 1.1"/>
<path d="M183.4 183.4H186.0M183.4 186.6H186.0" stroke="#ff0000" stroke-width="1" fill="none"/>
<polygon points="184.7,181.7 187.3,185.0 184.7,188.3 182.1,185.0" fill="#ff0000"/>
<path d="M191.5 185.0V189.0" stroke="#ff0000" stroke-width="1.2" fill="none" stroke-dasharray="1.1 1.1"/>
<path d="M190.2 185.0H192.8M190.2 189.0H192.8" stroke="#ff0000" stroke-width="1" fill="none"/>
<polygon points="191.5,183.7 194.1,187.0 191.5,190.3 188.9,187.0" fill="#ff0000"/>
<path d="M198.3 186.4V191.2" stroke="#ff0000" stroke-width="1.2" fill="none" stroke-dasharray="1.1 1.1"/>
<path d="M197.0 186.4H199.6M197.0 191.2H199.6" stroke="#ff0000" stroke-width="1" fill="none"/>
<polygon points="198.3,185.4 200.9,188.7 198.3,192.0 195.7,188.7" fill="#ff0000"/>
<path d="M205.1 189.9V195.1" stroke="#ff0000" stroke-width="1.2" fill="none" stroke-dasharray="1.1 1.1"/>
<path d="M203.8 189.9H206.4M203.8 195.1H206.4" stroke="#ff0000" stroke-width="1" fill="none"/>
<polygon points="205.1,189.1 207.7,192.4 205.1,195.7 202.5,192.4" fill="#ff0000"/>
<path d="M211.9 194.0V199.8" stroke="#ff0000" stroke-width="1.2" fill="none" stroke-dasharray="1.1 1.1"/>
<path d="M210.6 194.0H213.2M210.6 199.8H213.2" stroke="#ff0000" stroke-width="1" fill="none"/>
<polygon points="211.9,193.5 214.5,196.8 211.9,200.1 209.3,196.8" fill="#ff0000"/>
<path d="M218.7 201.6V207.8" stroke="#ff0000" stroke-width="1.2" fill="none" stroke-dasharray="1.1 1.1"/>
<path d="M217.4 201.6H220.0M217.4 207.8H220.0" stroke="#ff0000" stroke-width="1" fill="none"/>
<polygon points="218.7,201.3 221.3,204.6 218.7,207.9 216.1,204.6" fill="#ff0000"/>
<path d="M225.5 205.3V212.3" stroke="#ff0000" stroke-width="1.2" fill="none" stroke-dasharray="1.1 1.1"/>
<path d="M224.2 205.3H226.8M224.2 212.3H226.8" stroke="#ff0000" stroke-width="1" fill="none"/>
<polygon points="225.5,205.4 228.1,208.7 225.5,212.0 222.9,208.7" fill="#ff0000"/>
<path d="M232.3 207.7V215.7" stroke="#ff0000" stroke-width="1.2" fill="none" stroke-dasharray="1.1 1.1"/>
<path d="M231.0 207.7H233.6M231.0 215.7H233.6" stroke="#ff0000" stroke-width="1" fill="none"/>
<polygon points="232.3,208.2 234.9,211.5 232.3,214.8 229.7,211.5" fill="#ff0000"/>
<path d="M239.1 213.0V223.0" stroke="#ff0000" stroke-width="1.2" fill="none" stroke-dasharray="1.1 1.1"/>
<path d="M237.8 213.0H240.4M237.8 223.0H240.4" stroke="#ff0000" stroke-width="1" fill="none"/>
<polygon points="239.1,214.2 241.7,217.5 239.1,220.8 236.5,217.5" fill="#ff0000"/>
<path d="M249.3 228.2V240.2" stroke="#ff0000" stroke-width="1.2" fill="none" stroke-dasharray="1.1 1.1"/>
<path d="M248.0 228.2H250.6M248.0 240.2H250.6" stroke="#ff0000" stroke-width="1" fill="none"/>
<polygon points="249.3,230.2 251.9,233.5 249.3,236.8 246.7,233.5" fill="#ff0000"/>
<path d="M262.9 225.1V236.2" stroke="#ff0000" stroke-width="1.2" fill="none" stroke-dasharray="1.1 1.1"/>
<path d="M261.6 225.1H264.2M261.6 236.2H264.2" stroke="#ff0000" stroke-width="1" fill="none"/>
<polygon points="262.9,226.6 265.5,229.9 262.9,233.2 260.3,229.9" fill="#ff0000"/>
<path d="M276.5 236.7V251.0" stroke="#ff0000" stroke-width="1.2" fill="none" stroke-dasharray="1.1 1.1"/>
<path d="M275.2 236.7H277.8M275.2 251.0H277.8" stroke="#ff0000" stroke-width="1" fill="none"/>
<polygon points="276.5,239.9 279.1,243.2 276.5,246.5 273.9,243.2" fill="#ff0000"/>
<path d="M290.1 252.7V283.8" stroke="#ff0000" stroke-width="1.2" fill="none" stroke-dasharray="1.1 1.1"/>
<path d="M288.8 252.7H291.4M288.8 283.8H291.4" stroke="#ff0000" stroke-width="1" fill="none"/>
<polygon points="290.1,258.9 292.7,262.2 290.1,265.5 287.5,262.2" fill="#ff0000"/>
<path d="M303.7 244.4V264.7" stroke="#ff0000" stroke-width="1.2" fill="none" stroke-dasharray="1.1 1.1"/>
<path d="M302.4 244.4H305.0M302.4 264.7H305.0" stroke="#ff0000" stroke-width="1" fill="none"/>
<polygon points="303.7,248.9 306.3,252.2 303.7,255.5 301.1,252.2" fill="#ff0000"/>
<path d="M320.7 264.7V296.5" stroke="#ff0000" stroke-width="1.2" fill="none" stroke-dasharray="1.1 1.1"/>
<path d="M319.4 264.7H322.0M319.4 296.5H322.0" stroke="#ff0000" stroke-width="1" fill="none"/>
<polygon points="320.7,271.5 323.3,274.8 320.7,278.1 318.1,274.8" fill="#ff0000"/>
</g>
<g fill="none" stroke="#000" stroke-width="1.2">
<rect x="45.5" y="17.5" width="325.5" height="300"/>
<rect x="45.5" y="317.5" width="325.5" height="160.2"/>
</g>
<path d="M45.50 314.26H51.00M371.00 314.26H365.50M45.50 311.56H51.00M371.00 311.56H365.50M45.50 309.22H51.00M371.00 309.22H365.50M45.50 307.16H51.00M371.00 307.16H365.50M45.50 305.31H56.50M371.00 305.31H360.00M45.50 293.17H51.00M371.00 293.17H365.50M45.50 286.07H51.00M371.00 286.07H365.50M45.50 281.03H51.00M371.00 281.03H365.50M45.50 277.12H51.00M371.00 277.12H365.50M45.50 273.93H51.00M371.00 273.93H365.50M45.50 271.23H51.00M371.00 271.23H365.50M45.50 268.89H51.00M371.00 268.89H365.50M45.50 266.83H51.00M371.00 266.83H365.50M45.50 264.98H56.50M371.00 264.98H360.00M45.50 252.84H51.00M371.00 252.84H365.50M45.50 245.74H51.00M371.00 245.74H365.50M45.50 240.70H51.00M371.00 240.70H365.50M45.50 236.79H51.00M371.00 236.79H365.50M45.50 233.60H51.00M371.00 233.60H365.50M45.50 230.90H51.00M371.00 230.90H365.50M45.50 228.56H51.00M371.00 228.56H365.50M45.50 226.50H51.00M371.00 226.50H365.50M45.50 224.65H56.50M371.00 224.65H360.00M45.50 212.51H51.00M371.00 212.51H365.50M45.50 205.41H51.00M371.00 205.41H365.50M45.50 200.37H51.00M371.00 200.37H365.50M45.50 196.46H51.00M371.00 196.46H365.50M45.50 193.27H51.00M371.00 193.27H365.50M45.50 190.57H51.00M371.00 190.57H365.50M45.50 188.23H51.00M371.00 188.23H365.50M45.50 186.17H51.00M371.00 186.17H365.50M45.50 184.32H56.50M371.00 184.32H360.00M45.50 172.18H51.00M371.00 172.18H365.50M45.50 165.08H51.00M371.00 165.08H365.50M45.50 160.04H51.00M371.00 160.04H365.50M45.50 156.13H51.00M371.00 156.13H365.50M45.50 152.94H51.00M371.00 152.94H365.50M45.50 150.24H51.00M371.00 150.24H365.50M45.50 147.90H51.00M371.00 147.90H365.50M45.50 145.84H51.00M371.00 145.84H365.50M45.50 143.99H56.50M371.00 143.99H360.00M45.50 131.85H51.00M371.00 131.85H365.50M45.50 124.75H51.00M371.00 124.75H365.50M45.50 119.71H51.00M371.00 119.71H365.50M45.50 115.80H51.00M371.00 115.80H365.50M45.50 112.61H51.00M371.00 112.61H365.50M45.50 109.91H51.00M371.00 109.91H365.50M45.50 107.57H51.00M371.00 107.57H365.50M45.50 105.51H51.00M371.00 105.51H365.50M45.50 103.66H56.50M371.00 103.66H360.00M45.50 91.52H51.00M371.00 91.52H365.50M45.50 84.42H51.00M371.00 84.42H365.50M45.50 79.38H51.00M371.00 79.38H365.50M45.50 75.47H51.00M371.00 75.47H365.50M45.50 72.28H51.00M371.00 72.28H365.50M45.50 69.58H51.00M371.00 69.58H365.50M45.50 67.24H51.00M371.00 67.24H365.50M45.50 65.18H51.00M371.00 65.18H365.50M45.50 63.33H56.50M371.00 63.33H360.00M45.50 51.19H51.00M371.00 51.19H365.50M45.50 44.09H51.00M371.00 44.09H365.50M45.50 39.05H51.00M371.00 39.05H365.50M45.50 35.14H51.00M371.00 35.14H365.50M45.50 31.95H51.00M371.00 31.95H365.50M45.50 29.25H51.00M371.00 29.25H365.50M45.50 26.91H51.00M371.00 26.91H365.50M45.50 24.85H51.00M371.00 24.85H365.50M45.50 23.00H56.50M371.00 23.00H360.00M48.38 17.50V19.50M48.38 317.50V315.50M48.38 317.50V318.60M48.38 477.70V476.60M55.50 17.50V25.30M55.50 317.50V309.70M55.50 317.50V321.50M55.50 477.70V473.70M62.62 17.50V19.50M62.62 317.50V315.50M62.62 317.50V318.60M62.62 477.70V476.60M69.74 17.50V21.30M69.74 317.50V313.70M69.74 317.50V319.50M69.74 477.70V475.70M76.86 17.50V19.50M76.86 317.50V315.50M76.86 317.50V318.60M76.86 477.70V476.60M83.98 17.50V21.30M83.98 317.50V313.70M83.98 317.50V319.50M83.98 477.70V475.70M91.10 17.50V19.50M91.10 317.50V315.50M91.10 317.50V318.60M91.10 477.70V476.60M98.22 17.50V21.30M98.22 317.50V313.70M98.22 317.50V319.50M98.22 477.70V475.70M105.34 17.50V19.50M105.34 317.50V315.50M105.34 317.50V318.60M105.34 477.70V476.60M112.46 17.50V21.30M112.46 317.50V313.70M112.46 317.50V319.50M112.46 477.70V475.70M119.58 17.50V19.50M119.58 317.50V315.50M119.58 317.50V318.60M119.58 477.70V476.60M126.70 17.50V25.30M126.70 317.50V309.70M126.70 317.50V321.50M126.70 477.70V473.70M133.82 17.50V19.50M133.82 317.50V315.50M133.82 317.50V318.60M133.82 477.70V476.60M140.94 17.50V21.30M140.94 317.50V313.70M140.94 317.50V319.50M140.94 477.70V475.70M148.06 17.50V19.50M148.06 317.50V315.50M148.06 317.50V318.60M148.06 477.70V476.60M155.18 17.50V21.30M155.18 317.50V313.70M155.18 317.50V319.50M155.18 477.70V475.70M162.30 17.50V19.50M162.30 317.50V315.50M162.30 317.50V318.60M162.30 477.70V476.60M169.42 17.50V21.30M169.42 317.50V313.70M169.42 317.50V319.50M169.42 477.70V475.70M176.54 17.50V19.50M176.54 317.50V315.50M176.54 317.50V318.60M176.54 477.70V476.60M183.66 17.50V21.30M183.66 317.50V313.70M183.66 317.50V319.50M183.66 477.70V475.70M190.78 17.50V19.50M190.78 317.50V315.50M190.78 317.50V318.60M190.78 477.70V476.60M197.90 17.50V25.30M197.90 317.50V309.70M197.90 317.50V321.50M197.90 477.70V473.70M205.02 17.50V19.50M205.02 317.50V315.50M205.02 317.50V318.60M205.02 477.70V476.60M212.14 17.50V21.30M212.14 317.50V313.70M212.14 317.50V319.50M212.14 477.70V475.70M219.26 17.50V19.50M219.26 317.50V315.50M219.26 317.50V318.60M219.26 477.70V476.60M226.38 17.50V21.30M226.38 317.50V313.70M226.38 317.50V319.50M226.38 477.70V475.70M233.50 17.50V19.50M233.50 317.50V315.50M233.50 317.50V318.60M233.50 477.70V476.60M240.62 17.50V21.30M240.62 317.50V313.70M240.62 317.50V319.50M240.62 477.70V475.70M247.74 17.50V19.50M247.74 317.50V315.50M247.74 317.50V318.60M247.74 477.70V476.60M254.86 17.50V21.30M254.86 317.50V313.70M254.86 317.50V319.50M254.86 477.70V475.70M261.98 17.50V19.50M261.98 317.50V315.50M261.98 317.50V318.60M261.98 477.70V476.60M269.10 17.50V25.30M269.10 317.50V309.70M269.10 317.50V321.50M269.10 477.70V473.70M276.22 17.50V19.50M276.22 317.50V315.50M276.22 317.50V318.60M276.22 477.70V476.60M283.34 17.50V21.30M283.34 317.50V313.70M283.34 317.50V319.50M283.34 477.70V475.70M290.46 17.50V19.50M290.46 317.50V315.50M290.46 317.50V318.60M290.46 477.70V476.60M297.58 17.50V21.30M297.58 317.50V313.70M297.58 317.50V319.50M297.58 477.70V475.70M304.70 17.50V19.50M304.70 317.50V315.50M304.70 317.50V318.60M304.70 477.70V476.60M311.82 17.50V21.30M311.82 317.50V313.70M311.82 317.50V319.50M311.82 477.70V475.70M318.94 17.50V19.50M318.94 317.50V315.50M318.94 317.50V318.60M318.94 477.70V476.60M326.06 17.50V21.30M326.06 317.50V313.70M326.06 317.50V319.50M326.06 477.70V475.70M333.18 17.50V19.50M333.18 317.50V315.50M333.18 317.50V318.60M333.18 477.70V476.60M340.30 17.50V25.30M340.30 317.50V309.70M340.30 317.50V321.50M340.30 477.70V473.70M347.42 17.50V19.50M347.42 317.50V315.50M347.42 317.50V318.60M347.42 477.70V476.60M354.54 17.50V21.30M354.54 317.50V313.70M354.54 317.50V319.50M354.54 477.70V475.70M361.66 17.50V19.50M361.66 317.50V315.50M361.66 317.50V318.60M361.66 477.70V476.60M368.78 17.50V21.30M368.78 317.50V313.70M368.78 317.50V319.50M368.78 477.70V475.70M45.50 458.30H53.00M371.00 458.30H363.50M45.50 442.36H50.80M371.00 442.36H365.70M45.50 428.88H50.80M371.00 428.88H365.70M45.50 417.21H50.80M371.00 417.21H365.70M45.50 406.91H50.80M371.00 406.91H365.70M45.50 397.70H53.00M371.00 397.70H363.50M45.50 389.37H50.80M371.00 389.37H365.70M45.50 381.76H50.80M371.00 381.76H365.70M45.50 374.76H50.80M371.00 374.76H365.70M45.50 368.28H50.80M371.00 368.28H365.70M45.50 362.25H50.80M371.00 362.25H365.70M45.50 356.61H50.80M371.00 356.61H365.70M45.50 351.31H50.80M371.00 351.31H365.70M45.50 346.31H50.80M371.00 346.31H365.70M45.50 341.59H50.80M371.00 341.59H365.70M45.50 337.10H53.00M371.00 337.10H363.50M45.50 332.84H50.80M371.00 332.84H365.70M45.50 328.77H50.80M371.00 328.77H365.70M45.50 324.88H50.80M371.00 324.88H365.70M45.50 321.16H50.80M371.00 321.16H365.70" stroke="#000" stroke-width="1" fill="none"/>
<text x="51.5" y="14.5" font-size="12.2" text-anchor="start" fill="#000">13000 GeV pp</text>
<text x="364.6" y="13.7" font-size="12" text-anchor="end" fill="#000">Z+Jet</text>
<text x="86.6" y="41.9" font-size="12" text-anchor="start" fill="#000">Toward region, 60 &lt; p</text>
<text x="202.4" y="37.2" font-size="8.4" text-anchor="start" fill="#000">Z</text>
<text x="202.4" y="49" font-size="8.4" text-anchor="start" fill="#000">T</text>
<text x="210.2" y="41.9" font-size="12" text-anchor="start" fill="#000">&lt; 80 [GeV], high thrust</text>
<text x="39.9" y="28.4" font-size="10.4" text-anchor="end" fill="#000">10<tspan font-size="7.2" dy="-5.4">2</tspan></text>
<text x="39.9" y="68.73" font-size="10.4" text-anchor="end" fill="#000">10</text>
<text x="39.9" y="109.06" font-size="10.4" text-anchor="end" fill="#000">1</text>
<text x="39.9" y="149.39" font-size="10.4" text-anchor="end" fill="#000">10<tspan font-size="7.2" dy="-5.4">−1</tspan></text>
<text x="39.9" y="189.72" font-size="10.4" text-anchor="end" fill="#000">10<tspan font-size="7.2" dy="-5.4">−2</tspan></text>
<text x="39.9" y="230.05" font-size="10.4" text-anchor="end" fill="#000">10<tspan font-size="7.2" dy="-5.4">−3</tspan></text>
<text x="39.9" y="270.38" font-size="10.4" text-anchor="end" fill="#000">10<tspan font-size="7.2" dy="-5.4">−4</tspan></text>
<text x="39.9" y="310.71" font-size="10.4" text-anchor="end" fill="#000">10<tspan font-size="7.2" dy="-5.4">−5</tspan></text>
<text x="38.5" y="340.503" font-size="10.8" text-anchor="end" fill="#000">2</text>
<text x="373.5" y="340.503" font-size="10.8" text-anchor="start" fill="#000">2</text>
<text x="38.5" y="402.3" font-size="10.8" text-anchor="end" fill="#000">1</text>
<text x="373.5" y="402.3" font-size="10.8" text-anchor="start" fill="#000">1</text>
<text x="38.5" y="462.297" font-size="10.8" text-anchor="end" fill="#000">0<tspan dx="0.9">.</tspan><tspan dx="0.5">5</tspan></text>
<text x="373.5" y="462.297" font-size="10.8" text-anchor="start" fill="#000">0<tspan dx="0.9">.</tspan><tspan dx="0.5">5</tspan></text>
<text x="55.7" y="489.2" font-size="10.8" text-anchor="middle" fill="#000">0</text>
<text x="126.9" y="489.2" font-size="10.8" text-anchor="middle" fill="#000">1</text>
<text x="198.1" y="489.2" font-size="10.8" text-anchor="middle" fill="#000">2</text>
<text x="269.3" y="489.2" font-size="10.8" text-anchor="middle" fill="#000">3</text>
<text x="340.5" y="489.2" font-size="10.8" text-anchor="middle" fill="#000">4</text>
<text x="318.6" y="502.8" font-size="12">N<tspan font-size="8.2" dy="4.4">ch</tspan><tspan dy="-4.4" dx="-0.4">/dη dϕ</tspan></text>
<text transform="translate(14.2,131.2) rotate(-90)" font-size="11.5">1/N<tspan font-size="7.4" dy="3.4">ev</tspan><tspan dy="-3.4"> dN</tspan><tspan font-size="7.4" dy="3.4">ev</tspan><tspan dy="-3.4">/dN</tspan><tspan font-size="7.4" dy="3.4">ch</tspan><tspan dy="-3.4">/dη dϕ</tspan></text>
<text transform="translate(19.0,427.6) rotate(-90)" font-size="9.25">Ratio to ATLAS</text>
<text transform="translate(380.6,128.6) rotate(-90)" font-size="9.65" fill="#666">Rivet 4.1.0, ≥ 3.8M events</text>
<text transform="translate(381.9,312.3) rotate(-90)" font-size="9.45" fill="#666">mcplots.cern.ch [arXiv:2401.10621]</text>
<text x="162.3" y="301.8" font-size="8.1" text-anchor="start" fill="#999">(ATLAS_2019_I1736531)</text>
<rect x="74.1" y="231.0" width="5.2" height="5.2" fill="#000"/>
<line x1="64" y1="246.6" x2="88.7" y2="246.6" stroke="#3c8c0a" stroke-width="0.9" stroke-dasharray="2.2 1.8"/>
<rect x="74.5" y="244.3" width="4.5" height="4.5" fill="none" stroke="#3c8c0a" stroke-width="1.45"/>
<line x1="64" y1="259.7" x2="88.7" y2="259.7" stroke="#0000ff" stroke-width="0.9"/>
<polygon points="76.7,256.2 73.4,261.9 80.0,261.9" fill="#0000ff"/>
<line x1="64" y1="272.9" x2="88.7" y2="272.9" stroke="#ff0000" stroke-width="0.9" stroke-dasharray="1.1 1.1"/>
<polygon points="76.7,269.6 79.3,272.9 76.7,276.2 74.1,272.9" fill="#ff0000"/>
<text x="94.2" y="236.9" font-size="9.4" text-anchor="start" fill="#000">ATLAS</text>
<text x="94.2" y="249.9" font-size="9.4" text-anchor="start" fill="#000">Herwig 7.2.1 default</text>
<text x="94.2" y="263" font-size="9.4" text-anchor="start" fill="#000">Pythia 8.315 default</text>
<text x="94.2" y="276.2" font-size="9.4" text-anchor="start" fill="#000">Sherpa 2.2.9 default</text>
</svg></body></html>
